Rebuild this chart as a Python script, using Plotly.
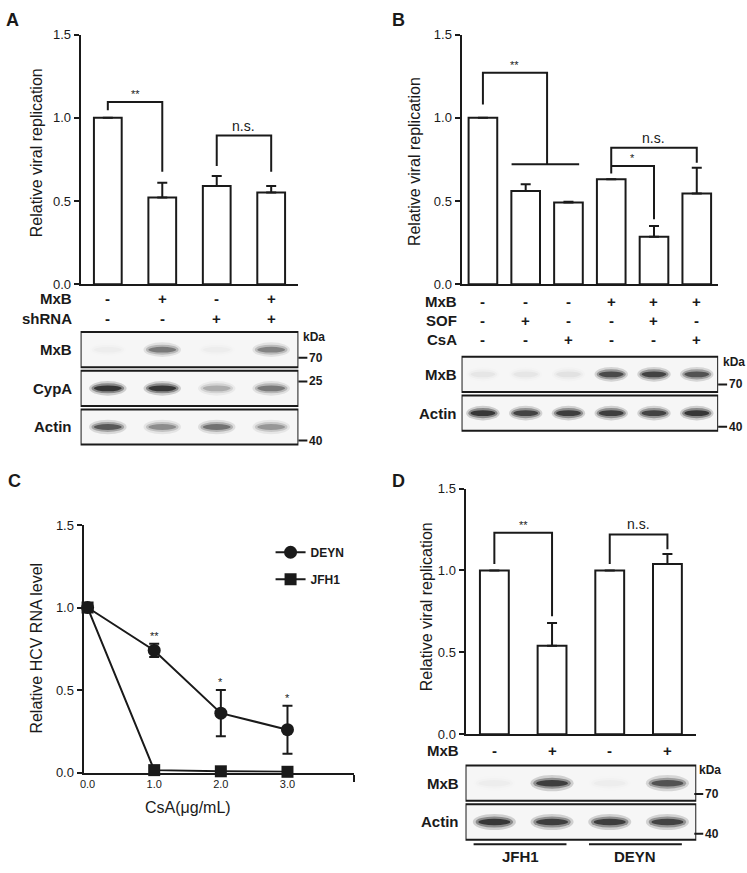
import plotly.graph_objects as go

W, H = 747, 873
def fx(p): return p / W
def fy(p): return 1 - p / H

FONT = "Arial, 'Liberation Sans', Helvetica, sans-serif"
INK = "#1a1a1a"

# ---------------- Data ----------------
# Panel A
a_lanes = [0, 1, 2, 3]
a_values = [1.00, 0.52, 0.59, 0.55]
a_err = [0.0, 0.09, 0.06, 0.04]
a_mxb = ["-", "+", "-", "+"]
a_shrna = ["-", "-", "+", "+"]
a_blot_rows = ["MxB", "CypA", "Actin"]
a_blot = [[0.03, 0.55, 0.03, 0.50],
          [1.00, 1.00, 0.30, 0.55],
          [0.75, 0.45, 0.60, 0.40]]
a_kda_rows = [0.21, 0.82, 2.35]
a_kda_labels = ["70", "25", "40"]
a_brackets = [(0, 1, 1.045, 1.095, 0.675, "**"), (2, 3, 0.71, 0.893, 0.675, "n.s.")]

# Panel B
b_lanes = [0, 1, 2, 3, 4, 5]
b_values = [1.00, 0.56, 0.49, 0.63, 0.285, 0.545]
b_err = [0.0, 0.04, 0.005, 0.0, 0.065, 0.155]
b_mxb = ["-", "-", "-", "+", "+", "+"]
b_sof = ["-", "+", "-", "-", "+", "-"]
b_csa = ["-", "-", "+", "-", "-", "+"]
b_blot_rows = ["MxB", "Actin"]
b_blot = [[0.06, 0.06, 0.07, 0.85, 0.90, 0.80],
          [1.00, 0.90, 0.95, 0.95, 0.90, 1.00]]
b_kda_rows = [0.26, 1.35]
b_kda_labels = ["70", "40"]
b_brackets = [(0, 1.5, 1.08, 1.27, 0.72, "**"), (3, 5, 0.665, 0.82, 0.73, "n.s."),
              (3, 4, 0.71, 0.71, 0.39, "*")]
b_group_line = (0.67, 2.25, 0.72)

# Panel C
c_dose = [0, 1, 2, 3]
c_deyn = [1.0, 0.74, 0.36, 0.26]
c_deyn_err = [0.0, 0.04, 0.14, 0.145]
c_jfh1 = [1.0, 0.015, 0.008, 0.005]
c_stars = ["", "**", "*", "*"]
c_ticks = ["0.0", "1.0", "2.0", "3.0"]

# Panel D
d_lanes = [0, 1, 2, 3]
d_values = [1.00, 0.54, 1.00, 1.04]
d_err = [0.0, 0.14, 0.0, 0.06]
d_mxb = ["-", "+", "-", "+"]
d_blot_rows = ["MxB", "Actin"]
d_blot = [[0.03, 0.95, 0.03, 0.80],
          [1.00, 0.95, 0.95, 0.90]]
d_kda_rows = [0.28, 1.30]
d_kda_labels = ["70", "40"]
d_brackets = [(0, 1, 1.04, 1.23, 0.72, "**"), (2, 3, 1.04, 1.22, 1.13, "n.s.")]
d_groups = ["JFH1", "DEYN"]
d_group_lanes = [(0, 1), (2, 3)]

y_ticks = [0, 0.5, 1.0, 1.5]
y_ticktext = ["0.0", "0.5", "1.0", "1.5"]

# ---------------- Helpers ----------------
def ann(text, x, y, xref="paper", yref="paper", size=12, bold=False,
        xanchor="center", yanchor="middle", angle=0, color=INK):
    if bold:
        text = f"<b>{text}</b>"
    return dict(text=text, x=x, y=y, xref=xref, yref=yref, showarrow=False,
                font=dict(family=FONT, size=size, color=color),
                xanchor=xanchor, yanchor=yanchor, textangle=angle)

shapes = []
annotations = []
traces = []

def bar_axes(xn, yn, xd, yd, n):
    xa = dict(domain=xd, range=[-0.5, n - 0.5], anchor=yn, showline=True, linewidth=2,
              linecolor=INK, showticklabels=False, ticks="", showgrid=False, zeroline=False)
    ya = dict(domain=yd, range=[0, 1.5], anchor=xn, showline=True, linewidth=2, linecolor=INK,
              ticks="outside", ticklen=5, tickwidth=2, tickcolor=INK, tickvals=y_ticks,
              ticktext=y_ticktext, tickfont=dict(family=FONT, size=13, color=INK),
              showgrid=False, zeroline=False)
    return xa, ya

def blot_axes(xn, yn, xd, yd, n, nrows):
    xa = dict(domain=xd, range=[-0.5, n - 0.5], anchor=yn, visible=False, showgrid=False,
              zeroline=False)
    ya = dict(domain=yd, range=[nrows - 0.5, -0.5], anchor=xn, visible=False, showgrid=False,
              zeroline=False)
    return xa, ya

def add_bars(lanes, vals, errs, width, xa, ya):
    traces.append(go.Bar(x=lanes, y=vals, width=width, xaxis=xa, yaxis=ya, showlegend=False,
                         marker=dict(color="white", line=dict(color=INK, width=2)),
                         error_y=dict(type="data", symmetric=False, array=errs,
                                      arrayminus=[0] * len(errs), color=INK,
                                      thickness=2, width=5)))

def add_brackets(brs, xa, ya):
    for (l, r, lb, top, rb, lab) in brs:
        shapes.append(dict(type="path", xref=xa, yref=ya,
                           path=f"M {l},{lb} L {l},{top} L {r},{top} L {r},{rb}",
                           line=dict(color=INK, width=2)))
        if lab == "n.s.":
            annotations.append(ann(lab, (l + r) / 2, top, xa, ya, size=14,
                                   yanchor="bottom"))
        else:
            annotations.append(ann(lab, (l + r) / 2, top, xa, ya, size=11,
                                   yanchor="bottom"))

def add_blot(xa, ya, rows, data, n, bw, bh, kda_rows, kda_labels, label_x, box_right_px):
    for r, name in enumerate(rows):
        shapes.append(dict(type="rect", xref=xa, yref=ya, x0=-0.5, x1=n - 0.5,
                           y0=r - 0.455, y1=r + 0.455, fillcolor="#f6f6f6",
                           line=dict(color=INK, width=2), layer="above"))
        for lane, v in enumerate(data[r]):
            for sw, sh, op in [(1.15, 1.9, 0.16), (1.0, 1.3, 0.33), (0.85, 0.75, 0.6)]:
                shapes.append(dict(type="circle", xref=xa, yref=ya,
                                   x0=lane - bw * sw / 2, x1=lane + bw * sw / 2,
                                   y0=r - bh * sh / 2, y1=r + bh * sh / 2,
                                   fillcolor="#000", opacity=min(1, op * v),
                                   line=dict(width=0), layer="above"))
        annotations.append(ann(name, fx(label_x), r, "paper", ya, size=15, bold=True,
                               xanchor="right"))
    for kr, kl in zip(kda_rows, kda_labels):
        shapes.append(dict(type="line", xref="paper", yref=ya, x0=fx(box_right_px),
                           x1=fx(box_right_px + 9), y0=kr, y1=kr,
                           line=dict(color=INK, width=2)))
        annotations.append(ann(kl, fx(box_right_px + 9), kr, "paper", ya, size=12,
                               bold=True, xanchor="left"))
    annotations.append(ann("kDa", fx(box_right_px + 3), -0.33, "paper", ya, size=12,
                           bold=True, xanchor="left"))

def add_conditions(xa, names, rows_vals, ys, label_x):
    for name, vals, ypix in zip(names, rows_vals, ys):
        annotations.append(ann(name, fx(label_x), fy(ypix), size=15, bold=True,
                               xanchor="right"))
        for i, s in enumerate(vals):
            annotations.append(ann(s, i, fy(ypix), xa, "paper", size=15, bold=True))

layout_axes = {}

# ---------------- Panel A ----------------
xa, ya = bar_axes("x", "y", [fx(77), fx(296)], [fy(282), fy(28)], 4)
layout_axes["xaxis"], layout_axes["yaxis"] = xa, ya
xa, ya = blot_axes("x2", "y2", [fx(77), fx(296)], [fy(447), fy(329)], 4, 3)
layout_axes["xaxis2"], layout_axes["yaxis2"] = xa, ya
add_bars(a_lanes, a_values, a_err, 0.51, "x", "y")
add_brackets(a_brackets, "x", "y")
add_conditions("x", ["MxB", "shRNA"], [a_mxb, a_shrna], [297, 317], 70)
add_blot("x2", "y2", a_blot_rows, a_blot, 4, 0.6, 0.2, a_kda_rows, a_kda_labels, 70, 296)
annotations.append(ann("Relative viral replication", fx(33), fy(148), size=16, angle=-90))
annotations.append(ann("A", fx(9), fy(13), size=18, bold=True))

# ---------------- Panel B ----------------
xa, ya = bar_axes("x3", "y3", [fx(460), fx(718)], [fy(282), fy(28)], 6)
layout_axes["xaxis3"], layout_axes["yaxis3"] = xa, ya
xa, ya = blot_axes("x4", "y4", [fx(460), fx(718)], [fy(433), fy(354)], 6, 2)
layout_axes["xaxis4"], layout_axes["yaxis4"] = xa, ya
add_bars(b_lanes, b_values, b_err, 0.67, "x3", "y3")
add_brackets(b_brackets, "x3", "y3")
gl = b_group_line
shapes.append(dict(type="line", xref="x3", yref="y3", x0=gl[0], x1=gl[1], y0=gl[2], y1=gl[2],
                   line=dict(color=INK, width=2)))
add_conditions("x3", ["MxB", "SOF", "CsA"], [b_mxb, b_sof, b_csa], [300, 319, 338], 457)
add_blot("x4", "y4", b_blot_rows, b_blot, 6, 0.68, 0.2, b_kda_rows, b_kda_labels, 457, 718)
annotations.append(ann("Relative viral replication", fx(413), fy(157), size=16, angle=-90))
annotations.append(ann("B", fx(397), fy(13), size=18, bold=True))

# ---------------- Panel C ----------------
layout_axes["xaxis5"] = dict(domain=[fx(80), fx(352)], range=[-0.06, 4.0], anchor="y5",
                             showline=True, linewidth=2, linecolor=INK, ticks="",
                             tickvals=c_dose, ticktext=c_ticks,
                             tickfont=dict(family=FONT, size=11, color=INK),
                             minor=dict(tickvals=[4], ticks="outside", ticklen=7,
                                        tickwidth=2, tickcolor=INK),
                             showgrid=False, zeroline=False)
layout_axes["yaxis5"] = dict(domain=[fy(779), fy(527)], range=[0, 1.5], anchor="x5",
                             showline=True, linewidth=2, linecolor=INK, ticks="outside",
                             ticklen=5, tickwidth=2, tickcolor=INK, tickvals=y_ticks,
                             ticktext=y_ticktext, tickfont=dict(family=FONT, size=13, color=INK),
                             showgrid=False, zeroline=False)
traces.append(go.Scatter(x=c_dose, y=c_deyn, mode="lines+markers", name="<b>DEYN</b>",
                         xaxis="x5", yaxis="y5", cliponaxis=False, legendgroup="a",
                         marker=dict(symbol="circle", size=13, color=INK),
                         line=dict(color=INK, width=2),
                         error_y=dict(type="data", array=c_deyn_err, color=INK, thickness=2,
                                      width=5)))
traces.append(go.Scatter(x=c_dose, y=c_jfh1, mode="lines+markers", name="<b>JFH1</b>",
                         xaxis="x5", yaxis="y5", cliponaxis=False, legendgroup="b",
                         marker=dict(symbol="square", size=12, color=INK),
                         line=dict(color=INK, width=2)))
for d, v, e, s in zip(c_dose, c_deyn, c_deyn_err, c_stars):
    if s:
        annotations.append(ann(s, d, v + e, "x5", "y5", size=11, yanchor="bottom"))
annotations.append(ann("CsA(μg/mL)", fx(185), fy(815), size=16))
annotations.append(ann("Relative HCV RNA level", fx(33), fy(652), size=16, angle=-90))
annotations.append(ann("C", fx(11), fy(482), size=18, bold=True))

# ---------------- Panel D ----------------
xa, ya = bar_axes("x6", "y6", [fx(464), fx(696)], [fy(740), fy(490)], 4)
layout_axes["xaxis6"], layout_axes["yaxis6"] = xa, ya
xa, ya = blot_axes("x7", "y7", [fx(464), fx(696)], [fy(849), fy(770)], 4, 2)
layout_axes["xaxis7"], layout_axes["yaxis7"] = xa, ya
add_bars(d_lanes, d_values, d_err, 0.5, "x6", "y6")
add_brackets(d_brackets, "x6", "y6")
add_conditions("x6", ["MxB"], [d_mxb], [756], 459)
add_blot("x7", "y7", d_blot_rows, d_blot, 4, 0.65, 0.22, d_kda_rows, d_kda_labels, 459, 694)
for g, (l0, l1) in zip(d_groups, d_group_lanes):
    x0, x1 = l0 - 0.36, l1 + 0.25
    shapes.append(dict(type="line", xref="x7", yref="paper", x0=x0, x1=x1, y0=fy(852),
                       y1=fy(852), line=dict(color=INK, width=2)))
    annotations.append(ann(g, (x0 + x1) / 2, fy(864), "x7", "paper", size=15, bold=True))
annotations.append(ann("Relative viral replication", fx(425), fy(610), size=16, angle=-90))
annotations.append(ann("D", fx(397), fy(482), size=18, bold=True))

fig = go.Figure(data=traces)
fig.update_layout(width=W, height=H, margin=dict(l=0, r=0, t=0, b=0),
                  paper_bgcolor="white", plot_bgcolor="white",
                  font=dict(family=FONT, color=INK),
                  shapes=shapes, annotations=annotations, showlegend=True,
                  legend=dict(x=fx(268), y=fy(540), xanchor="left", yanchor="top",
                              bgcolor="rgba(0,0,0,0)", itemwidth=30, tracegroupgap=8,
                              font=dict(family=FONT, size=12, color=INK)),
                  **layout_axes)
fig.write_html("out.html", config={"displayModeBar": False},
               post_script="document.body.style.margin='0';document.body.style.overflow='hidden';")
